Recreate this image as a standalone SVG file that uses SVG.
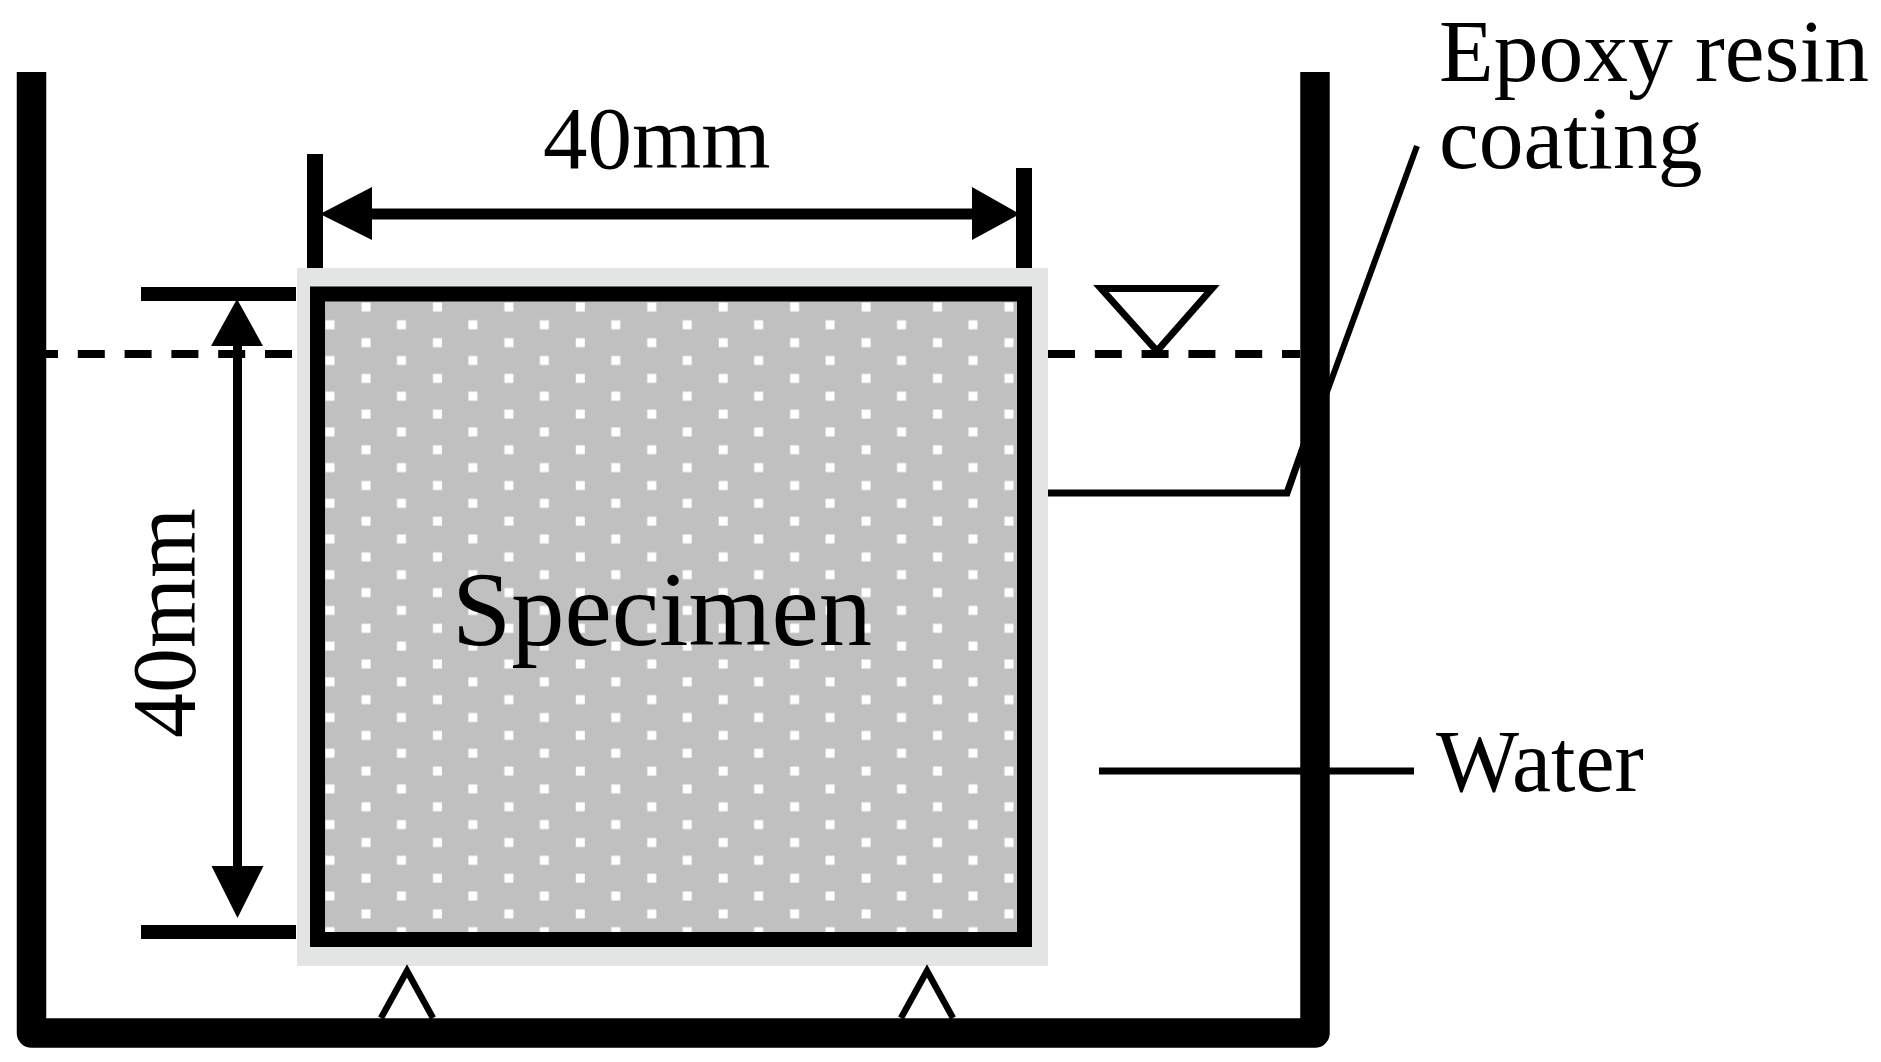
<svg xmlns="http://www.w3.org/2000/svg" width="1881" height="1062" viewBox="0 0 1881 1062">
<style>
text{font-family:"Liberation Serif","Times New Roman",serif;fill:#000}
.l{fill:none;stroke:#000}
</style>
<defs>
<pattern id="dots" patternUnits="userSpaceOnUse" x="326" y="298" width="71.44" height="35.7">
<rect x="0" y="0" width="71.44" height="35.7" fill="#c0c0c0"/>
<rect x="35.5" y="4.5" width="9" height="9" fill="#fff"/>
<rect x="-0.5" y="22.3" width="9" height="9" fill="#fff"/>
<rect x="70.94" y="22.3" width="0.5" height="9" fill="#fff"/>
</pattern>
</defs>
<rect width="1881" height="1062" fill="#fff"/>
<g id="specimen">
<rect x="297" y="268" width="751" height="698" fill="#e3e5e4"/>
<rect x="317.5" y="294" width="707" height="645.5" fill="url(#dots)" stroke="#000" stroke-width="15"/>
<text x="452" y="645" font-size="106.5">Specimen</text>
</g>
<g id="connectors">
<path class="l" d="M31 354H293M1048 354H1300" stroke-width="8" stroke-dasharray="27 19.8"/>
<path class="l" d="M1048 493H1287L1305 442" stroke-width="7"/>
<path class="l" d="M1320 411L1417 146" stroke-width="6"/>
<path class="l" d="M1099 771H1414" stroke-width="7"/>
<path d="M141 287H296V301H141ZM141 925H296V939H141ZM307 154H323V268H307ZM1016 168H1032V268H1016Z" fill="#000"/>
<path d="M320 214L372 187V208.500H972V187L1020 214L972 240V219.500H372V240Z" fill="#000"/>
<path d="M237 299L263 346H242V866H263.500L237.500 918L211.500 866H233V346H211Z" fill="#000"/>
</g>
<g id="water-mark"><path class="l" d="M1101 288.500H1212L1157 351Z" stroke-width="7"/></g>
<g id="supports">
<path class="l" d="M381 1018L407 971L433 1018M901 1018L927 971L953 1018" stroke-width="6.500"/>
</g>
<g id="tank"><path class="l" d="M31.500 72V1033H1315V72" stroke-width="29.500" stroke-linejoin="round"/></g>
<g id="labels">
<text x="543" y="168" font-size="89">40mm</text>
<text transform="translate(195 738) rotate(-90)" font-size="90">40mm</text>
<text x="1439" y="81" font-size="89.500">Epoxy resin</text>
<text x="1439" y="168" font-size="89.500">coating</text>
<text x="1436" y="791" font-size="88">Water</text>
</g>
</svg>
